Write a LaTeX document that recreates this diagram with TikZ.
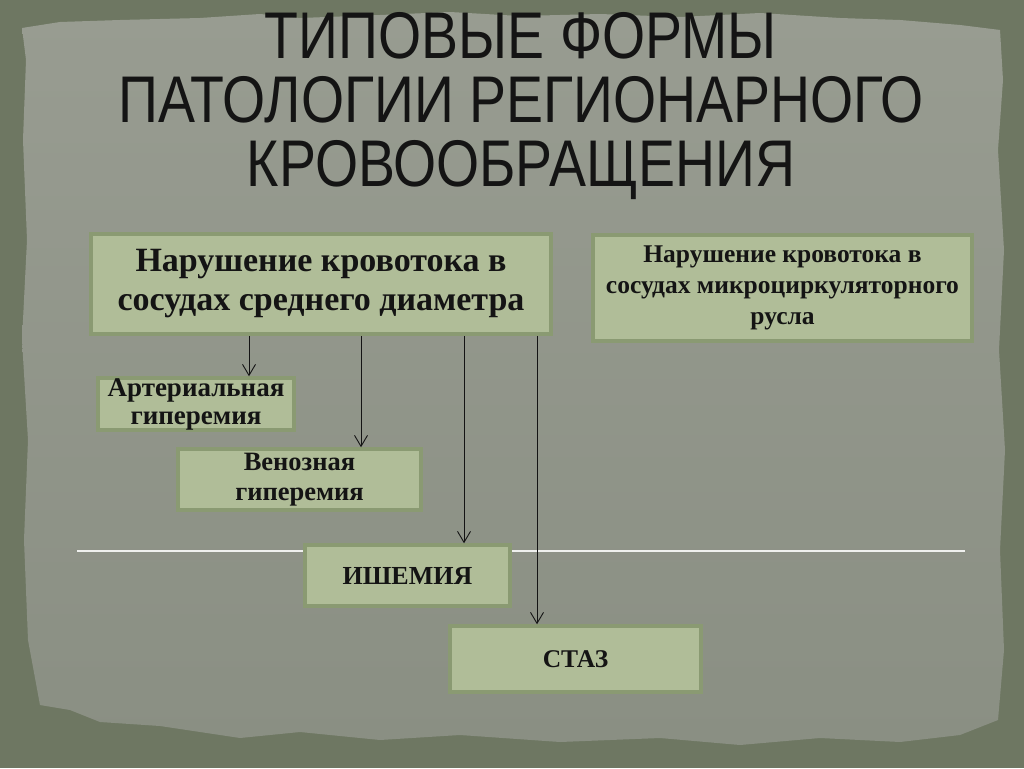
\documentclass[tikz,border=0pt]{standalone}
\usepackage{fontspec}
\setmainfont{Liberation Serif}
\newfontfamily\titlefont[FakeStretch=0.84]{Liberation Sans}
\usetikzlibrary{arrows.meta}
\definecolor{wall}{HTML}{6E7762}
\definecolor{papertop}{HTML}{989C91}
\definecolor{paperbot}{HTML}{8A8F83}
\definecolor{boxfill}{HTML}{B0BD98}
\definecolor{boxline}{HTML}{8A9A72}
\definecolor{ink}{HTML}{141414}

\begin{document}
\begin{tikzpicture}[x=1pt,y=-1pt,>={Straight Barb[length=11pt,width=13pt]}]
                % define styles
\tikzset{blk/.style={rectangle,
                       draw=boxline,
                       fill=boxfill,
                       line width=3.5pt,
                       text=ink,
                       align=center,
                       inner sep=0,
                       font=\bfseries,
                       },
         arr/.style={->,
                       draw=ink,
                       line width=0.9pt,
                       }
}

% background
\useasboundingbox (0,0) rectangle (1024,768);
\fill[wall] (0,0) rectangle (1024,768);
\shade[top color=papertop,bottom color=paperbot]
    (22,28) -- (60,22) -- (120,20) -- (200,18) -- (260,14) -- (300,18) --
    (380,15) -- (450,12) -- (520,16) -- (600,14) -- (680,17) -- (760,13) --
    (840,18) -- (900,20) -- (960,25) -- (1000,30) -- (1003,80) -- (998,150) --
    (1004,250) -- (999,350) -- (1005,450) -- (1000,550) -- (1004,650) --
    (998,720) -- (960,735) -- (900,742) -- (820,738) -- (740,745) --
    (660,738) -- (560,742) -- (460,735) -- (380,740) -- (300,732) --
    (240,738) -- (160,726) -- (100,722) -- (70,710) -- (40,705) --
    (28,640) -- (24,540) -- (28,440) -- (22,340) -- (27,240) -- (23,140) --
    (26,60) -- cycle;

% title
\node[text=ink,align=center,font=\titlefont\fontsize{66}{64}\selectfont]
    (title) at (521,106) {ТИПОВЫЕ ФОРМЫ\\ПАТОЛОГИИ РЕГИОНАРНОГО\\КРОВООБРАЩЕНИЯ};

% separator line
\coordinate (sepL) at (77,551);
\coordinate (sepR) at (965,551);
\draw[white!85!papertop,line width=1.6pt] (sepL) -- (sepR);

% nodes
\node[blk,minimum width=460,minimum height=100,font=\bfseries\fontsize{34}{39}\selectfont]
    (mid)   at (321,284)   {Нарушение кровотока в\\сосудах среднего диаметра};
\node[blk,minimum width=379,minimum height=106,font=\bfseries\fontsize{25.5}{31}\selectfont]
    (micro) at (782.5,288) {Нарушение кровотока в\\сосудах микроциркуляторного\\русла};
\node[blk,minimum width=196,minimum height=52,font=\bfseries\fontsize{27}{28}\selectfont]
    (art)   at (196,404)   {Артериальная\\гиперемия};
\node[blk,minimum width=243,minimum height=61,font=\bfseries\fontsize{26.5}{30}\selectfont]
    (ven)   at (299.5,479.5) {Венозная\\гиперемия};
\node[blk,minimum width=205,minimum height=61,font=\bfseries\fontsize{26}{28}\selectfont]
    (isch)  at (407.5,575.5) {ИШЕМИЯ};
\node[blk,minimum width=251,minimum height=66,font=\bfseries\fontsize{25.5}{28}\selectfont]
    (stas)  at (575.5,659)   {СТАЗ};

% arrows
\foreach \name/\xpos in {art/249, ven/361, isch/464, stas/537}{
    \coordinate (x-\name) at (\xpos,0);
    \draw[arr] (x-\name |- mid.south) -- (x-\name |- \name.north);
}

\end{tikzpicture}
\end{document}
